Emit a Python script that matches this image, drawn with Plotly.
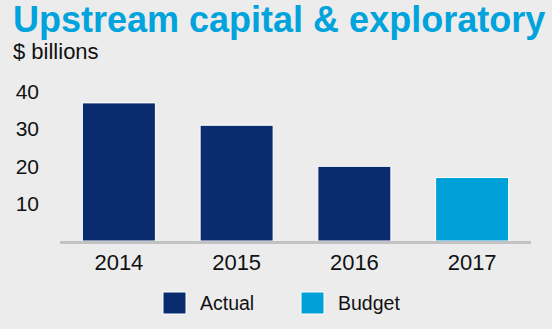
import plotly.graph_objects as go

# ---- data ----
years = ["2014", "2015", "2016", "2017"]
actual_years = ["2014", "2015", "2016"]
actual_values = [37, 31, 20]
budget_years = ["2017"]
budget_values = [17]
series_names = ["Actual", "Budget"]
series_colors = ["#0b2b6f", "#00a0d8"]
y_ticks = [10, 20, 30, 40]
title_text = "Upstream capital & exploratory"
unit_text = "$ billions"

W, H = 552, 329
L, R, T, B = 60, 21, 80, 88
PW, PH = W - L - R, H - T - B


def px(x):
    return (x - L) / PW


def py(y):
    return (H - B - y) / PH


FONT = "Liberation Sans, Arial, sans-serif"
BG = "#ececec"

fig = go.Figure()
fig.add_trace(go.Bar(x=actual_years, y=actual_values, name=series_names[0],
                     marker=dict(color=series_colors[0], line=dict(color="white", width=1)),
                     showlegend=False))
fig.add_trace(go.Bar(x=budget_years, y=budget_values, name=series_names[1],
                     marker=dict(color=series_colors[1], line=dict(color="white", width=1)),
                     showlegend=False))

# custom legend (large squares)
legend_boxes = [(163, 186), (301, 324)]
legend_text_x = [198, 336]
for (x0, x1), name, color, tx in zip(legend_boxes, series_names, series_colors, legend_text_x):
    fig.add_shape(type="rect", xref="paper", yref="paper",
                  x0=px(x0), x1=px(x1), y0=py(314), y1=py(292),
                  fillcolor=color, line=dict(color="white", width=1))
    fig.add_annotation(text=name, xref="paper", yref="paper", x=px(tx), y=py(303),
                       xanchor="left", yanchor="middle", showarrow=False,
                       font=dict(family=FONT, size=19.5, color="#111111"))

fig.add_annotation(text="<b>" + title_text + "</b>", xref="paper", yref="paper",
                   x=px(11), y=py(19), xanchor="left", yanchor="middle", showarrow=False,
                   font=dict(family=FONT, size=36, color="#00a3dc"))
fig.add_annotation(text=unit_text, xref="paper", yref="paper",
                   x=px(11), y=py(52), xanchor="left", yanchor="middle", showarrow=False,
                   font=dict(family=FONT, size=22, color="#111111"))

fig.update_layout(
    width=W, height=H,
    margin=dict(l=L, r=R, t=T, b=B, pad=0),
    paper_bgcolor=BG, plot_bgcolor=BG,
    barmode="overlay", bargap=0.38,
    showlegend=False,
    font=dict(family=FONT, color="#111111"),
)
fig.update_xaxes(categoryorder="array", categoryarray=years, range=[-0.5, 3.5],
                 showline=True, linecolor="#c2c2c2", linewidth=3,
                 showgrid=False, zeroline=False, ticks="",
                 tickfont=dict(family=FONT, size=22, color="#111111"),
                 ticklabelstandoff=0)
fig.update_yaxes(range=[0, PH / 3.733], tickvals=y_ticks, showgrid=False,
                 zeroline=False, showline=False, ticks="",
                 tickfont=dict(family=FONT, size=21, color="#111111"),
                 ticklabelstandoff=20)

fig.write_html("out.html", config={"displayModeBar": False})
